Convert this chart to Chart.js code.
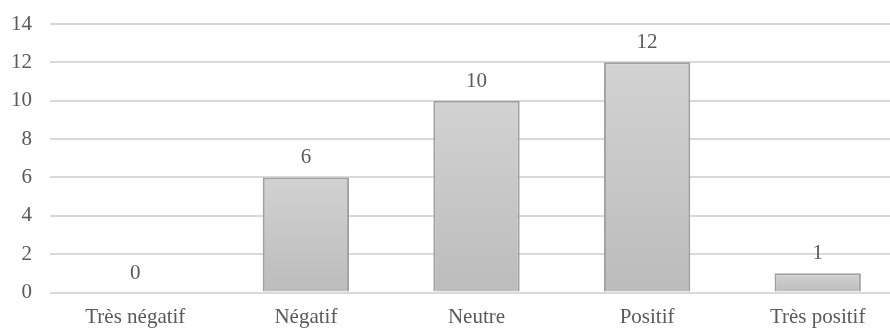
<!DOCTYPE html>
<html lang="fr">
<head>
<meta charset="utf-8">
<title>Répartition des avis</title>
<script src="https://cdn.jsdelivr.net/npm/chart.js@4.4.1/dist/chart.umd.min.js"></script>
<style>
  html, body { margin: 0; padding: 0; background: #ffffff; overflow: hidden; }
  #wrap { position: relative; width: 903px; height: 329px; }
</style>
</head>
<body>
<div id="wrap"><canvas id="chart"></canvas></div>
<script>
// Categories and counts
const categories = ['Très négatif', 'Négatif', 'Neutre', 'Positif', 'Très positif'];
const counts = [0, 6, 10, 12, 1];
// Value axis
const yMin = 0;
const yMax = 14;
const yStep = 2;

const FONT = { family: '"Liberation Serif", "Times New Roman", serif', size: 21 };
const TEXT = '#5a5a5a';

// Vertical grey gradient per bar, from its top to the baseline
function barGradient(ctx) {
  const chart = ctx.chart;
  const y = chart.scales.y;
  if (!y || ctx.raw === undefined) return '#c6c6c6';
  const top = y.getPixelForValue(ctx.raw);
  const bottom = y.getPixelForValue(0);
  if (!isFinite(top) || !isFinite(bottom) || bottom - top < 1) return '#c6c6c6';
  const g = chart.ctx.createLinearGradient(0, top, 0, bottom);
  g.addColorStop(0, '#d2d2d2');
  g.addColorStop(1, '#bcbcbc');
  return g;
}

// Count printed above each bar
const valueLabels = {
  id: 'valueLabels',
  afterDatasetsDraw(chart) {
    const c = chart.ctx;
    const meta = chart.getDatasetMeta(0);
    const ys = chart.scales.y;
    c.save();
    c.font = `${FONT.size}px ${FONT.family}`;
    c.fillStyle = TEXT;
    c.textAlign = 'center';
    c.textBaseline = 'alphabetic';
    meta.data.forEach((bar, i) => {
      const v = chart.data.datasets[0].data[i];
      c.fillText(String(v), bar.x, ys.getPixelForValue(v) - 14);
    });
    c.restore();
  }
};

new Chart(document.getElementById('chart'), {
  type: 'bar',
  data: {
    labels: categories,
    datasets: [{
      data: counts,
      backgroundColor: barGradient,
      borderColor: '#9f9f9f',
      borderWidth: 2,
      borderSkipped: 'bottom',
      barPercentage: 1,
      categoryPercentage: 0.506
    }]
  },
  options: {
    responsive: true,
    maintainAspectRatio: false,
    animation: false,
    layout: { padding: { top: 24, left: 0, right: 0, bottom: 0 } },
    plugins: {
      legend: { display: false },
      tooltip: { enabled: false }
    },
    scales: {
      x: {
        grid: { display: false, drawTicks: false },
        border: { display: false },
        ticks: { color: TEXT, font: FONT, padding: 12, maxRotation: 0, autoSkip: false },
        afterFit(scale) {
          scale.height = 36.5;
          scale.paddingLeft = 0;
          scale.paddingRight = 0;
        }
      },
      y: {
        min: yMin,
        max: yMax,
        ticks: { stepSize: yStep, color: TEXT, font: FONT, padding: 18 },
        grid: { color: '#d9d9d9', lineWidth: 2, drawTicks: false },
        border: { display: false },
        afterFit(scale) {
          scale.width = 50;
          scale.paddingTop = 0;
          scale.paddingBottom = 0;
        }
      }
    }
  },
  plugins: [valueLabels]
});
</script>
</body>
</html>
